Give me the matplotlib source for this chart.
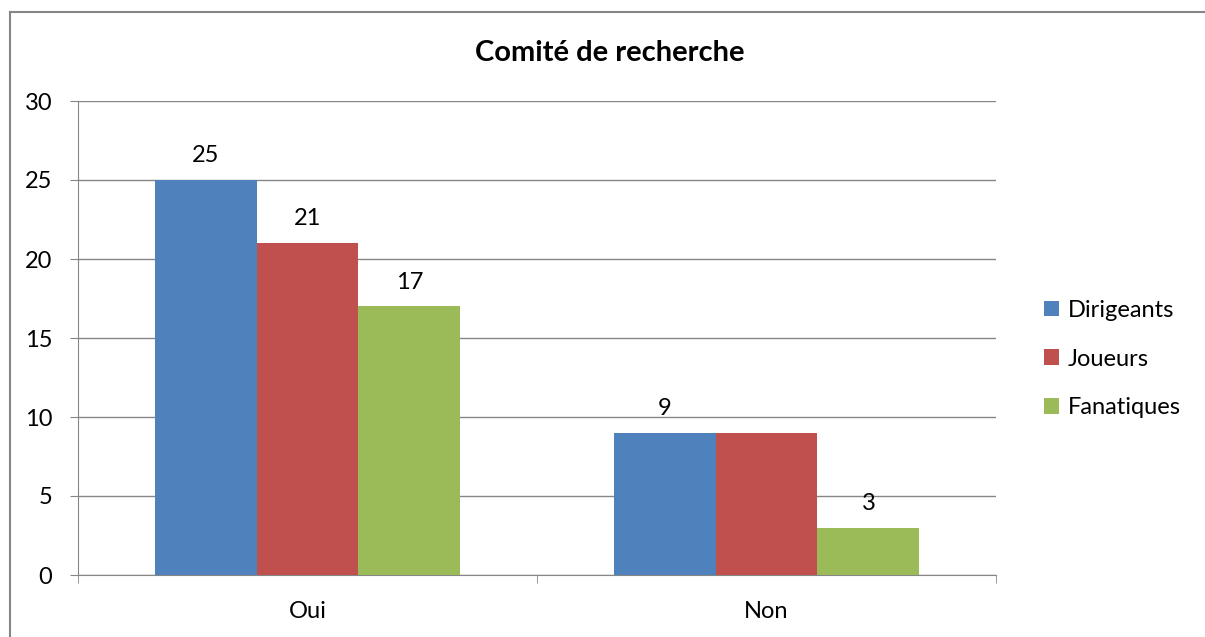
import numpy as np
import matplotlib.pyplot as plt
from matplotlib.lines import Line2D

categories = ["Oui", "Non"]
series = ["Dirigeants", "Joueurs", "Fanatiques"]
dirigeants = [25, 9]
joueurs = [21, 9]
fanatiques = [17, 3]
# data labels shown in the original (the second "9" is hidden)
labels_shown = [[True, True], [True, False], [True, True]]
colors = ["#4F81BD", "#C0504D", "#9BBB59"]
yticks = [0, 5, 10, 15, 20, 25, 30]

plt.rcParams['font.family'] = ['Lato', 'DejaVu Sans']

fig = plt.figure(figsize=(12.05, 6.37), dpi=100)
ax = fig.add_axes([78 / 1205, 1 - 575 / 637, 918 / 1205, 474 / 637])

x = np.arange(len(categories))
width = 0.222
values = [dirigeants, joueurs, fanatiques]
for i, (name, vals, col) in enumerate(zip(series, values, colors)):
    pos = x + (i - 1) * width
    bars = ax.bar(pos, vals, width, color=col, label=name, zorder=3)
    for b, v, show in zip(bars, vals, labels_shown[i]):
        if show:
            ax.annotate(str(v), (b.get_x() + b.get_width() / 2, v),
                        xytext=(0, 10), textcoords="offset points",
                        ha="center", va="bottom", fontsize=17)

ax.set_xlim(-0.5, 1.5)
ax.set_ylim(0, 30)
ax.set_yticks(yticks)
ax.set_xticks(x)
ax.set_xticklabels(categories)
ax.set_xticks([-0.5, 0.5, 1.5], minor=True)
ax.grid(axis="y", color="#868686", linewidth=1, zorder=0)
for s in ["top", "right"]:
    ax.spines[s].set_visible(False)
for s in ["left", "bottom"]:
    ax.spines[s].set_color("#868686")
ax.tick_params(axis="x", which="major", length=0, pad=18.5, labelsize=17)
ax.tick_params(axis="x", which="minor", length=6, color="#868686")
ax.tick_params(axis="y", length=6, color="#868686", pad=12.5, labelsize=17)

# title is centred on the whole chart area, not the plot area
fig.text(610 / 1205, 1 - 61 / 637, "Comité de recherche", fontsize=21,
         fontweight="bold", ha="center", va="baseline")

ax.legend(loc="center left", bbox_to_anchor=(1044 / 1205, 1 - 359 / 637),
          bbox_transform=fig.transFigure, frameon=False, borderpad=0,
          borderaxespad=0, fontsize=17, handlelength=0.64, handleheight=0.64,
          handletextpad=0.35, labelspacing=1.18)

# chart frame (only top and left edges visible)
fig.add_artist(Line2D([10 / 1205, 10 / 1205], [0, 1 - 11.5 / 637],
                      transform=fig.transFigure, color="#868686", lw=1.5))
fig.add_artist(Line2D([10 / 1205, 1], [1 - 11.5 / 637, 1 - 11.5 / 637],
                      transform=fig.transFigure, color="#868686", lw=1.5))

fig.savefig("out.png", dpi=100)
